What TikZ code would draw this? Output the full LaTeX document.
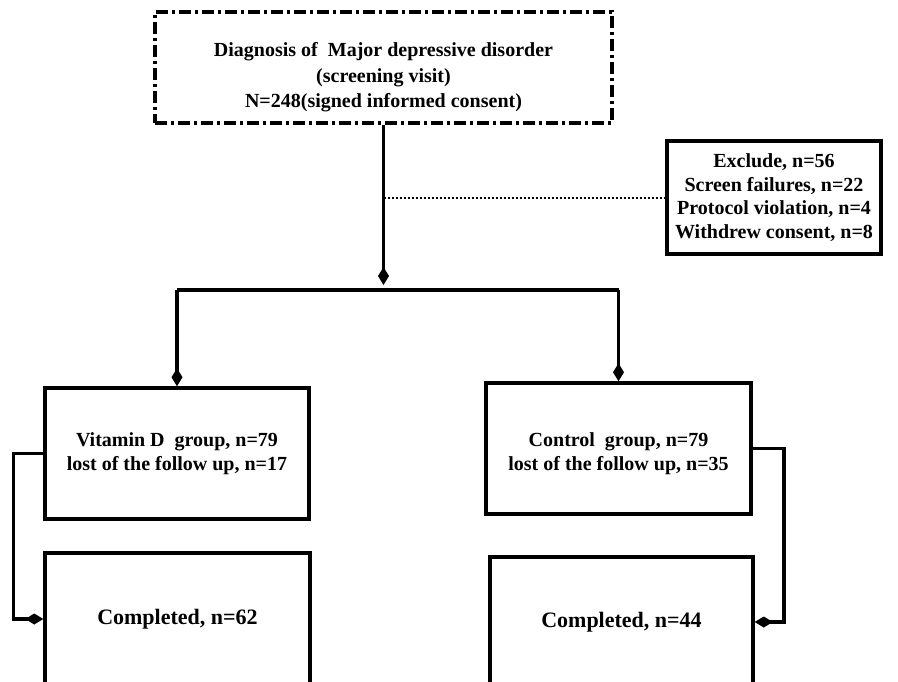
\documentclass[tikz,border=0pt]{standalone}
\usepackage{fontspec}
\setmainfont{Liberation Serif}
\usetikzlibrary{arrows.meta}

\begin{document}
\begin{tikzpicture}[x=1pt,y=-1pt,
  >={Diamond[length=18pt,width=11pt]},
  line width=3.5pt,
  box/.style={draw,rectangle,align=center,font=\fontsize{20}{24}\selectfont\bfseries},
  bigbox/.style={draw,rectangle,align=center,font=\fontsize{22}{26}\selectfont\bfseries},
  dashdot/.style={dash pattern=on 12pt off 4pt on 3pt off 4pt}]
 \clip (0,0) rectangle (898,681);

 \node[box,dashdot,minimum width=457pt,minimum height=111pt,font=\fontsize{20}{25.5}\selectfont\bfseries] (diag) at (383.5,67.5)
  {\rule{0pt}{34pt}Diagnosis of \ Major depressive disorder\\(screening visit)\\N=248(signed informed consent)};
 \node[box,minimum width=214pt,minimum height=113pt,font=\fontsize{20}{23.5}\selectfont\bfseries] (excl) at (774,197.5)
  {Exclude, n=56\\Screen failures, n=22\\Protocol violation, n=4\\Withdrew consent, n=8};
 \node[box,minimum width=264pt,minimum height=131pt] (vit) at (177,453.5)
  {Vitamin D \ group, n=79\\lost of the follow up, n=17};
 \node[box,minimum width=265pt,minimum height=131pt] (ctrl) at (618.5,448.5)
  {\rule{0pt}{24pt}Control \ group, n=79\\lost of the follow up, n=35};
 \node[bigbox,minimum width=265pt,minimum height=132pt] (compL) at (177.5,619) {Completed, n=62};
 \node[bigbox,minimum width=263pt,minimum height=130pt] (compR) at (621.5,622) {Completed, n=44};

 \coordinate (split) at (diag.south |- 0,290);
 \coordinate (splitL) at (vit.north |- split);
 \coordinate (splitR) at (ctrl.north |- split);

 \draw [->,shorten >=5pt] (diag) -- (split);
 \draw [line width=2pt,dash pattern=on 2pt off 2pt] (diag.south |- excl.west) -- (excl);
 \draw (splitL) -- (splitR);
 \draw [->] (splitL) -- (vit);
 \draw [->] (splitR) -- (ctrl);
 \draw [->] (vit.west) -- ++(-30,0) |- (compL.west);
 \draw [->] (ctrl.east) -- ++(31,0) |- (compR.east);
\end{tikzpicture}
\end{document}
